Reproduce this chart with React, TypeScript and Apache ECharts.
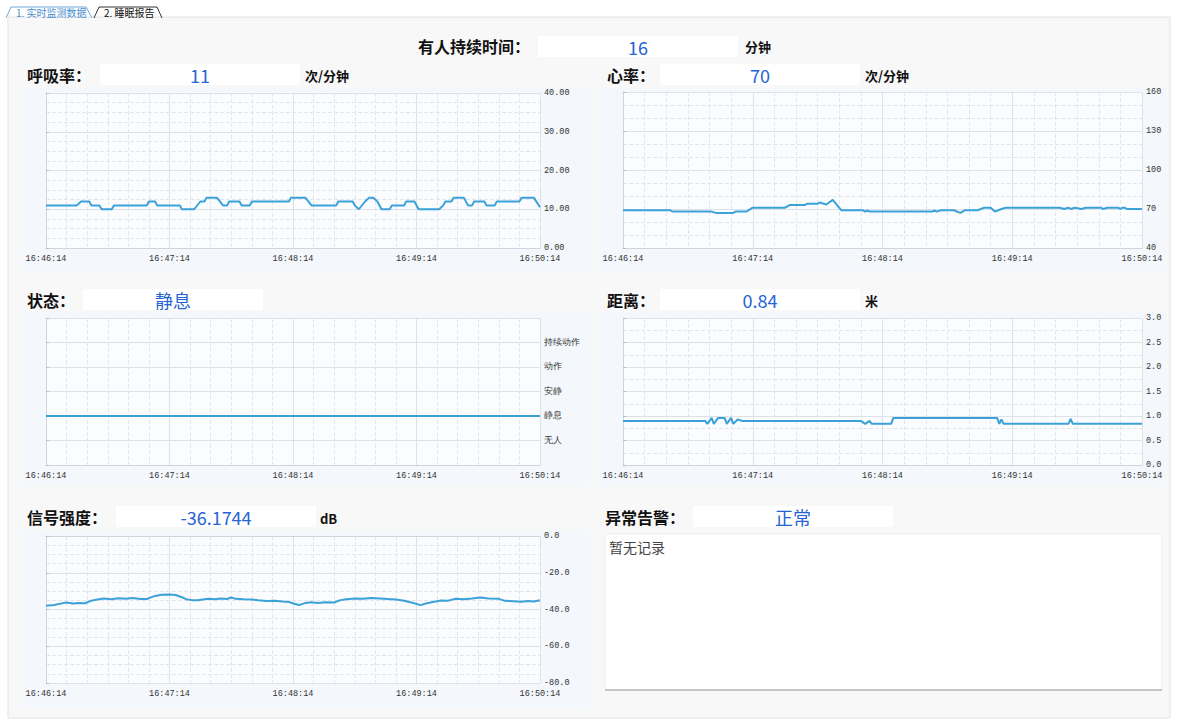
import React, { useEffect, useRef } from "react";
import * as echarts from "echarts";

const timeLabels = ["16:46:14", "16:47:14", "16:48:14", "16:49:14", "16:50:14"];

const respData: [number, number][] = [
  [0, 11], [15, 11], [17, 12], [21, 12], [22, 11], [26, 11], [27, 10], [32, 10], [33, 11], [49, 11],
  [50, 12], [53, 12], [54, 11], [65, 11], [66, 10], [72, 10], [75, 12], [77, 12], [78, 13], [83, 13],
  [86, 11], [88, 11], [89, 12], [94, 12], [95, 11], [99, 11], [100, 12], [118, 12], [119, 13], [126, 13],
  [129, 11], [141, 11], [142, 12], [149, 12], [150, 11], [152, 10], [155, 12], [157, 13], [159, 13],
  [161, 12], [163, 10], [167, 10], [168, 11], [174, 11], [175, 12], [179, 12], [181, 10], [191, 10],
  [193, 11], [194, 12], [197, 12], [198, 13], [203, 13], [205, 11], [207, 11], [208, 12], [213, 12],
  [214, 11], [218, 11], [219, 12], [230, 12], [231, 13], [237, 13], [240, 10.5],
];

const heartData: [number, number][] = [
  [0, 69], [22, 69], [23, 68], [41, 68], [43, 67], [51, 67], [52, 68], [57, 68], [60, 71], [75, 71],
  [77, 73], [84, 73], [85, 74], [90, 74], [91, 75], [94, 73.5], [97, 77], [101, 69], [111, 69],
  [112, 68], [113, 69], [114, 68], [143, 68], [144, 69], [145, 68], [147, 69], [153, 69], [156, 67],
  [158, 69], [164, 69], [167, 71], [170, 71], [172, 68], [175, 70], [177, 71], [202, 71], [204, 70],
  [206, 71], [207, 70], [209, 71], [212, 70], [214, 71], [221, 71], [222, 70], [224, 71], [229, 71],
  [230, 70], [231, 71], [232, 71], [233, 70], [240, 70],
];

const stateLabels = ["", "无人", "静息", "安静", "动作", "持续动作", ""];
const stateData: [number, number][] = [[0, 2], [240, 2]];

const distData: [number, number][] = [
  [0, 0.9], [38, 0.9], [39, 0.84], [41, 0.96], [42, 0.84], [44, 0.96], [47, 0.96], [48, 0.84],
  [50, 0.96], [51, 0.84], [53, 0.93], [55, 0.9], [110, 0.9], [112, 0.84], [114, 0.9], [115, 0.84],
  [124, 0.84], [125, 0.96], [173, 0.96], [174, 0.84], [175, 0.93], [176, 0.84], [206, 0.84],
  [207, 0.94], [208, 0.84], [240, 0.84],
];

const signalData: [number, number][] = [
  [0, -38], [4, -37.5], [7, -36.8], [10, -36.2], [13, -36.7], [16, -36.4], [19, -36.6], [22, -35.2],
  [25, -34.6], [28, -34.0], [32, -34.4], [35, -33.9], [39, -34.1], [42, -33.8], [46, -34.3],
  [49, -34.3], [51, -33.4], [53, -32.6], [56, -32.0], [60, -31.8], [63, -32.1], [66, -33.3],
  [68, -34.4], [71, -34.9], [74, -35.0], [76, -34.6], [79, -34.1], [82, -34.4], [85, -34.0],
  [88, -34.3], [90, -33.5], [92, -34.2], [96, -34.4], [100, -34.5], [103, -35.0], [107, -35.4],
  [111, -35.3], [115, -35.7], [118, -35.9], [121, -37.0], [123, -37.6], [126, -36.4], [129, -36.0],
  [132, -36.5], [136, -36.1], [140, -36.2], [143, -34.9], [146, -34.4], [150, -34.0], [154, -34.2],
  [158, -33.8], [162, -34.0], [166, -34.3], [170, -34.5], [174, -35.2], [178, -36.3], [182, -37.6],
  [185, -36.6], [188, -35.9], [192, -35.1], [195, -35.3], [199, -34.2], [203, -34.4], [207, -34.0],
  [211, -33.5], [215, -34.0], [220, -34.2], [223, -35.3], [227, -35.5], [231, -35.8], [234, -35.4],
  [237, -35.6], [240, -35.0],
];

const headerValues = {
  presence: "16",
  resp: "11",
  heart: "70",
  state: "静息",
  dist: "0.84",
  signal: "-36.1744",
  alarm: "正常",
};

const LINE = "#3ba1d9";
const SPLIT = "#dde2e9";
const MINOR = "#e3e7ed";
const AXIS_FONT = "Liberation Mono";
const LABEL_FONT = "Noto Sans CJK SC";

function xAxis(gridIndex: number) {
  return {
    type: "value",
    gridIndex,
    min: 0,
    max: 240,
    interval: 60,
    axisLine: { show: true, lineStyle: { color: "#cfd5dd" } },
    axisTick: { show: false },
    axisLabel: {
      color: "#333",
      fontSize: 8.5,
      fontFamily: AXIS_FONT,
      margin: 6,
      formatter: (v: number) => timeLabels[Math.round(v / 60)] ?? "",
    },
    splitLine: { show: true, lineStyle: { color: SPLIT } },
    minorTick: { show: false, splitNumber: 6 },
    minorSplitLine: { show: true, lineStyle: { color: MINOR, type: "dashed" } },
  };
}

function yAxis(gridIndex: number, min: number, max: number, interval: number, minorSplit: number, formatter: (v: number) => string) {
  return {
    type: "value",
    gridIndex,
    position: "right",
    min,
    max,
    interval,
    axisLine: { show: true, lineStyle: { color: "#cfd5dd" } },
    axisTick: { show: true, length: 3, lineStyle: { color: "#b8bec6" } },
    axisLabel: { color: "#333", fontSize: 8.5, fontFamily: AXIS_FONT, margin: 4, formatter },
    splitLine: { show: true, lineStyle: { color: SPLIT } },
    minorTick: { show: false, splitNumber: minorSplit || 1 },
    minorSplitLine: { show: minorSplit > 1, lineStyle: { color: MINOR, type: "dashed" } },
  };
}

function lineSeries(idx: number, data: [number, number][]) {
  return {
    type: "line",
    xAxisIndex: idx,
    yAxisIndex: idx,
    data,
    showSymbol: false,
    symbol: "none",
    lineStyle: { color: LINE, width: 2 },
    itemStyle: { color: LINE },
  };
}

function label(x: number, y: number, text: string) {
  return {
    type: "text",
    x,
    y,
    style: { text, fill: "#111", font: `bold 16px "${LABEL_FONT}"`, textVerticalAlign: "middle" },
  };
}

function valueBox(x: number, y: number, w: number, text: string) {
  return [
    { type: "rect", shape: { x, y, width: w, height: 21 }, style: { fill: "#ffffff" } },
    {
      type: "text",
      x: x + w / 2,
      y: y + 11,
      style: { text, fill: "#2563d6", font: `18px "${LABEL_FONT}"`, textAlign: "center", textVerticalAlign: "middle" },
    },
  ];
}

function unit(x: number, y: number, text: string) {
  return {
    type: "text",
    x,
    y,
    style: { text, fill: "#111", font: `bold 13px "${LABEL_FONT}"`, textVerticalAlign: "middle" },
  };
}

function panel(x: number, y: number, w: number, h: number) {
  return { type: "rect", z: -5, shape: { x, y, width: w, height: h }, style: { fill: "#f4f7fb" } };
}

export default function App() {
  const ref = useRef<HTMLDivElement>(null);
  useEffect(() => {
    if (!ref.current) return;
    const chart = echarts.init(ref.current, undefined, { renderer: "svg" });
    const grids = [
      { left: 46, top: 93, width: 494, height: 155 },
      { left: 623, top: 92, width: 519, height: 156 },
      { left: 46, top: 318, width: 494, height: 147 },
      { left: 623, top: 318, width: 519, height: 147 },
      { left: 46, top: 536, width: 494, height: 147 },
    ].map((g) => ({ ...g, show: true, backgroundColor: "#fbfcfe", borderWidth: 0 }));

    const option = {
      animation: false,
      backgroundColor: "#ffffff",
      grid: grids,
      xAxis: [0, 1, 2, 3, 4].map((i) => xAxis(i)),
      yAxis: [
        yAxis(0, 0, 40, 10, 4, (v) => v.toFixed(2)),
        yAxis(1, 0, 120, 30, 3, (v) => String(v + 40)),
        yAxis(2, 0, 6, 1, 0, (v) => stateLabels[Math.round(v)] ?? ""),
        yAxis(3, 0, 3, 0.5, 2, (v) => v.toFixed(1)),
        yAxis(4, -80, 0, 20, 4, (v) => v.toFixed(1)),
      ],
      series: [
        lineSeries(0, respData),
        lineSeries(1, heartData.map((d) => [d[0], d[1] - 40] as [number, number])),
        lineSeries(2, stateData),
        lineSeries(3, distData),
        lineSeries(4, signalData),
      ],
      graphic: [
        // outer frame
        { type: "rect", z: -10, shape: { x: 8, y: 17, width: 1162, height: 701 }, style: { fill: "#f8f8f8", stroke: "#e2e2e2", lineWidth: 1 } },
        // tabs
        { type: "polyline", shape: { points: [[6, 18], [11, 7], [86, 7], [92, 18]] }, style: { stroke: "#6fa8d8", fill: "none", lineWidth: 1 } },
        { type: "text", x: 16, y: 12, style: { text: "1. 实时监测数据", fill: "#4a90d0", font: `10px "${LABEL_FONT}"`, textVerticalAlign: "middle" } },
        { type: "polyline", shape: { points: [[94, 18], [99, 7], [157, 7], [162, 18]] }, style: { stroke: "#333", fill: "none", lineWidth: 1 } },
        { type: "text", x: 104, y: 12, style: { text: "2. 睡眠报告", fill: "#111", font: `10px "${LABEL_FONT}"`, textVerticalAlign: "middle" } },
        // panels
        panel(20, 88, 570, 184),
        panel(598, 88, 568, 184),
        panel(20, 312, 570, 174),
        panel(598, 312, 568, 174),
        panel(20, 530, 570, 178),
        // header rows
        label(418, 46, "有人持续时间："),
        ...valueBox(538, 36, 200, headerValues.presence),
        unit(745, 46, "分钟"),
        label(27, 75, "呼吸率："),
        ...valueBox(100, 64, 200, headerValues.resp),
        unit(305, 75, "次/分钟"),
        label(607, 75, "心率："),
        ...valueBox(660, 64, 200, headerValues.heart),
        unit(865, 75, "次/分钟"),
        label(27, 300, "状态："),
        ...valueBox(83, 289, 180, headerValues.state),
        label(607, 300, "距离："),
        ...valueBox(660, 289, 200, headerValues.dist),
        unit(865, 300, "米"),
        label(27, 517, "信号强度："),
        ...valueBox(116, 506, 200, headerValues.signal),
        unit(320, 518, "dB"),
        label(605, 517, "异常告警："),
        ...valueBox(693, 506, 200, headerValues.alarm),
        // alarm box
        { type: "rect", shape: { x: 605, y: 534, width: 557, height: 156 }, style: { fill: "#ffffff", stroke: "#ececec", lineWidth: 1 } },
        { type: "rect", shape: { x: 605, y: 689, width: 557, height: 2 }, style: { fill: "#c6c6c6" } },
        { type: "text", x: 609, y: 547, style: { text: "暂无记录", fill: "#444", font: `14px "${LABEL_FONT}"`, textVerticalAlign: "middle" } },
      ],
    };
    chart.setOption(option as any);
    return () => chart.dispose();
  }, []);
  return <div ref={ref} style={{ position: "fixed", left: 0, top: 0, width: 1178, height: 720 }} />;
}
